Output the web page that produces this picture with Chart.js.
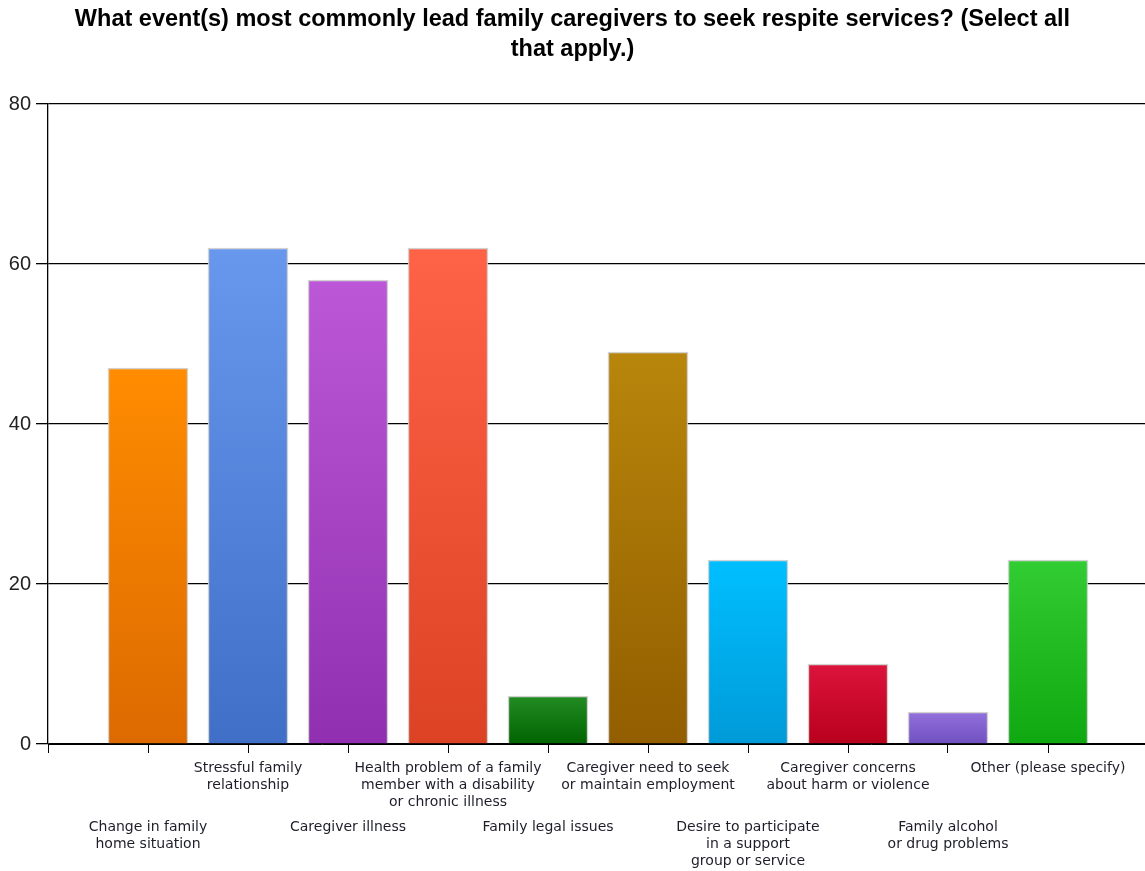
<!DOCTYPE html>
<html>
<head>
<meta charset="utf-8">
<script src="https://cdn.jsdelivr.net/npm/chart.js@4"></script>
<style>
  html, body { margin: 0; padding: 0; background: #fff; }
  #wrap { width: 1145px; height: 871px; }
</style>
</head>
<body>
<div id="wrap"><canvas id="c" width="1145" height="871"></canvas></div>
<script>
// Survey responses: events that lead family caregivers to seek respite services
const titleLines = [
  'What event(s) most commonly lead family caregivers to seek respite services? (Select all',
  'that apply.)'
];
const categories = [
  ['Change in family', 'home situation'],
  ['Stressful family', 'relationship'],
  ['Caregiver illness'],
  ['Health problem of a family', 'member with a disability', 'or chronic illness'],
  ['Family legal issues'],
  ['Caregiver need to seek', 'or maintain employment'],
  ['Desire to participate', 'in a support', 'group or service'],
  ['Caregiver concerns', 'about harm or violence'],
  ['Family alcohol', 'or drug problems'],
  ['Other (please specify)']
];
const values = [47, 62, 58, 62, 6, 49, 23, 10, 4, 23];
const yTicks = [0, 20, 40, 60, 80];
const topColors = ['#ff8c00', '#6897ee', '#bc58d8', '#ff6347', '#238c23', '#b8860b', '#00bfff', '#dc143c', '#9370db', '#32cd32'];
const bottomColors = ['#dc6a00', '#3f6fc6', '#9030b0', '#dc4224', '#006400', '#925e00', '#009ad8', '#b8001c', '#7050c0', '#10a810'];

const points = values.map((v, i) => ({ x: i + 1, y: v }));

function barFill(ctx) {
  const chart = ctx.chart;
  const i = ctx.dataIndex;
  if (!chart.chartArea || i === undefined) return topColors[i || 0];
  const ys = chart.scales.y;
  const top = ys.getPixelForValue(values[i]);
  const base = ys.getPixelForValue(0);
  const g = chart.ctx.createLinearGradient(0, top, 0, base);
  g.addColorStop(0, topColors[i]);
  g.addColorStop(1, bottomColors[i]);
  return g;
}

// Staggered, multi-line category labels under each tick
const staggeredLabels = {
  id: 'staggeredLabels',
  afterDraw(chart) {
    const xs = chart.scales.x;
    const ctx = chart.ctx;
    ctx.save();
    ctx.font = '14px "DejaVu Sans", sans-serif';
    ctx.fillStyle = '#1e1e2a';
    ctx.textAlign = 'center';
    ctx.textBaseline = 'middle';
    categories.forEach((lines, i) => {
      const x = xs.getPixelForValue(i + 1);
      const y0 = xs.top + (i % 2 === 0 ? 83 : 24);
      lines.forEach((line, j) => ctx.fillText(line, x, y0 + j * 17));
    });
    ctx.restore();
  }
};

new Chart(document.getElementById('c'), {
  type: 'bar',
  data: {
    datasets: [{
      data: points,
      backgroundColor: barFill,
      borderColor: 'rgba(205,205,205,0.9)',
      borderWidth: 1.5,
      borderSkipped: 'bottom',
      barThickness: 80
    }]
  },
  options: {
    responsive: false,
    animation: false,
    layout: { padding: { left: 0, right: 0, top: 0, bottom: 0 } },
    plugins: {
      legend: { display: false },
      tooltip: { enabled: false },
      title: {
        display: true,
        text: titleLines,
        color: '#000',
        font: { family: '"Liberation Sans", Arial, sans-serif', size: 23.5, weight: 'bold', lineHeight: 30 / 23.5 },
        padding: { top: 5, bottom: 39 }
      }
    },
    scales: {
      x: {
        type: 'linear',
        offset: false,
        min: 0,
        max: 10.97,
        ticks: { stepSize: 1, includeBounds: false, display: false },
        grid: { offset: false, drawOnChartArea: false, drawTicks: true, tickLength: 9, color: '#000', lineWidth: 1 },
        border: { display: true, color: '#000', width: 1 },
        afterFit(scale) { scale.height = 127; }
      },
      y: {
        min: 0,
        max: 80,
        afterBuildTicks(scale) { scale.ticks = yTicks.map(v => ({ value: v })); },
        ticks: {
          color: '#222',
          font: { family: '"Liberation Sans", Arial, sans-serif', size: 20 },
          padding: 5
        },
        grid: { color: '#000', lineWidth: 1.3, drawTicks: true, tickLength: 12 },
        border: { display: true, color: '#000', width: 1.3 },
        afterFit(scale) { scale.width = 48; }
      }
    }
  },
  plugins: [staggeredLabels]
});
</script>
</body>
</html>
